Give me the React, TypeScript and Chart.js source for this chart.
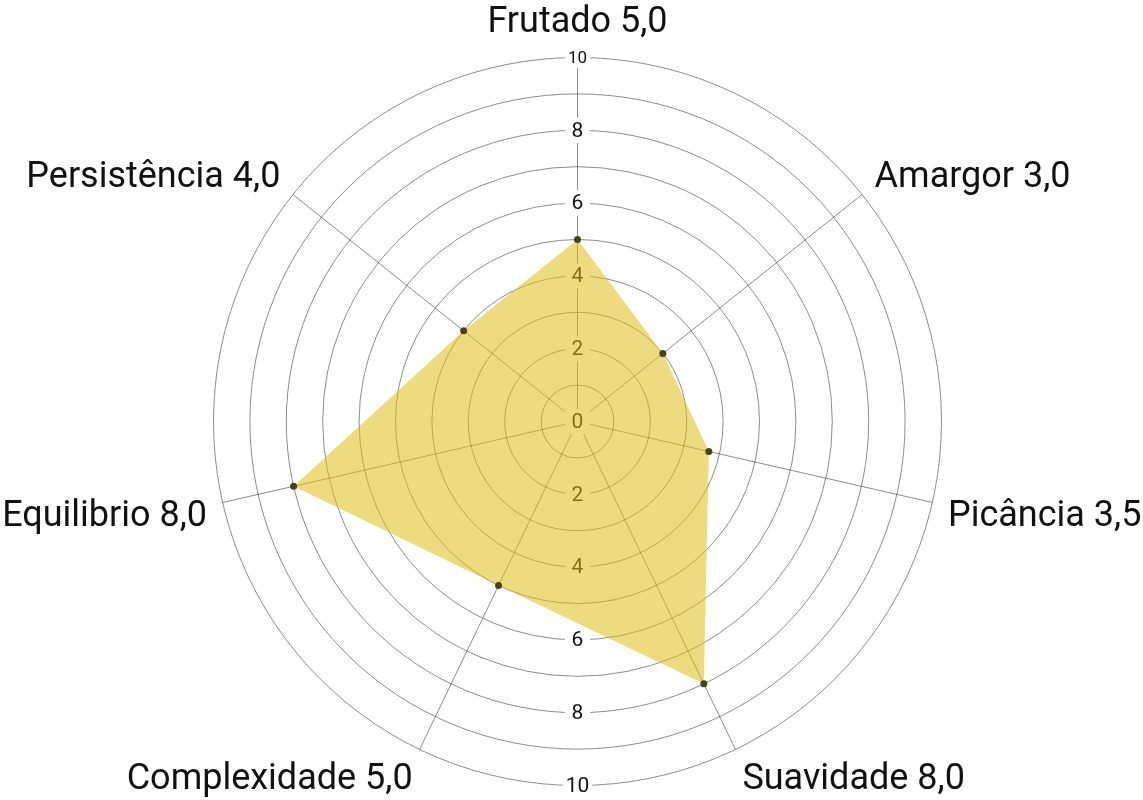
import { useEffect, useRef } from 'react'
import Chart from 'chart.js/auto'

// sensory profile, clockwise from the top
const attributes = ['Frutado', 'Amargor', 'Picância', 'Suavidade', 'Complexidade', 'Equilibrio', 'Persistência']
// score printed next to each attribute name
const printedScores = [5.0, 3.0, 3.5, 8.0, 5.0, 8.0, 4.0]
// where the marker actually sits on the rings
const plottedScores = [5.0, 3.0, 3.7, 8.0, 5.0, 8.0, 4.0]

const scaleMin = 0
const scaleMax = 10
const ringStep = 1
const tickLabelStep = 2

const FONT = 'Roboto, "Noto Sans", sans-serif'
const GRID = 'rgba(0,0,0,0.45)'

const fmt = (v: number) => v.toFixed(1).replace('.', ',')

// draw the value labels up and down the vertical axis plus the attribute names
const labelPlugin = {
  id: 'sensoryLabels',
  beforeDatasetsDraw(chart: any) {
    const s = chart.scales.r
    const ctx = chart.ctx
    ctx.save()
    ctx.textAlign = 'center'
    ctx.textBaseline = 'middle'
    s.ticks.forEach((t: any) => {
      if (t.value % tickLabelStep !== 0) return
      const d = s.getDistanceFromCenterForValue(t.value)
      const sides = t.value === s.min ? [0] : [-1, 1]
      sides.forEach((side) => {
        const size = side < 0 && t.value === s.max ? 17 : 21
        ctx.font = `${size}px ${FONT}`
        const text = String(t.value)
        const w = Math.max(ctx.measureText(text).width + 6, size * 1.2)
        const h = size * 1.2
        const y = s.yCenter + side * d
        ctx.fillStyle = '#fff'
        ctx.fillRect(s.xCenter - w / 2, y - h / 2, w, h)
        ctx.fillStyle = '#111'
        ctx.fillText(text, s.xCenter, y + 1)
      })
    })

    ctx.font = `36px ${FONT}`
    ctx.fillStyle = '#111'
    attributes.forEach((name, i) => {
      const p = s.getPointPosition(i, s.drawingArea + 16)
      const a = s.getIndexAngle(i)
      const sin = Math.sin(a)
      const cos = Math.cos(a)
      ctx.textAlign = Math.abs(sin) < 0.05 ? 'center' : sin > 0 ? 'left' : 'right'
      ctx.fillText(`${name} ${fmt(printedScores[i])}`, p.x, p.y - 17.5 * cos - 1.5 + 9.5 * sin * sin)
    })
    ctx.restore()
  },
}

export default function App() {
  const ref = useRef<HTMLCanvasElement>(null)
  useEffect(() => {
    if (!ref.current) return
    const chart = new Chart(ref.current, {
      type: 'radar',
      data: {
        labels: attributes,
        datasets: [{
          data: plottedScores,
          fill: true,
          backgroundColor: 'rgba(226,189,22,0.55)',
          borderColor: 'rgba(0,0,0,0)',
          borderWidth: 0,
          pointRadius: 3.5,
          pointHoverRadius: 3.5,
          pointBorderWidth: 0,
          pointBackgroundColor: '#474219',
        }],
      },
      options: {
        responsive: false,
        animation: false,
        layout: { padding: { top: 57.5, bottom: 14.5, left: 213.5, right: 201.5 } },
        plugins: { legend: { display: false }, tooltip: { enabled: false } },
        scales: {
          r: {
            min: scaleMin,
            max: scaleMax,
            ticks: { stepSize: ringStep, display: false },
            grid: { circular: true, color: GRID, lineWidth: 1 },
            angleLines: { color: GRID, lineWidth: 1 },
            pointLabels: { display: false },
            // keep the rings centred in the padded area
            afterFit: (s: any) => {
              s.xCenter = (s.left + s.right) / 2
              s.yCenter = (s.top + s.bottom) / 2
              s.drawingArea = Math.min(s.right - s.left, s.bottom - s.top) / 2
            },
          },
        },
      },
      plugins: [labelPlugin],
    })
    return () => chart.destroy()
  }, [])
  return (
    <div style={{ position: 'fixed', left: 0, top: 0, background: '#fff' }}>
      <canvas ref={ref} width={1143} height={800} />
    </div>
  )
}
